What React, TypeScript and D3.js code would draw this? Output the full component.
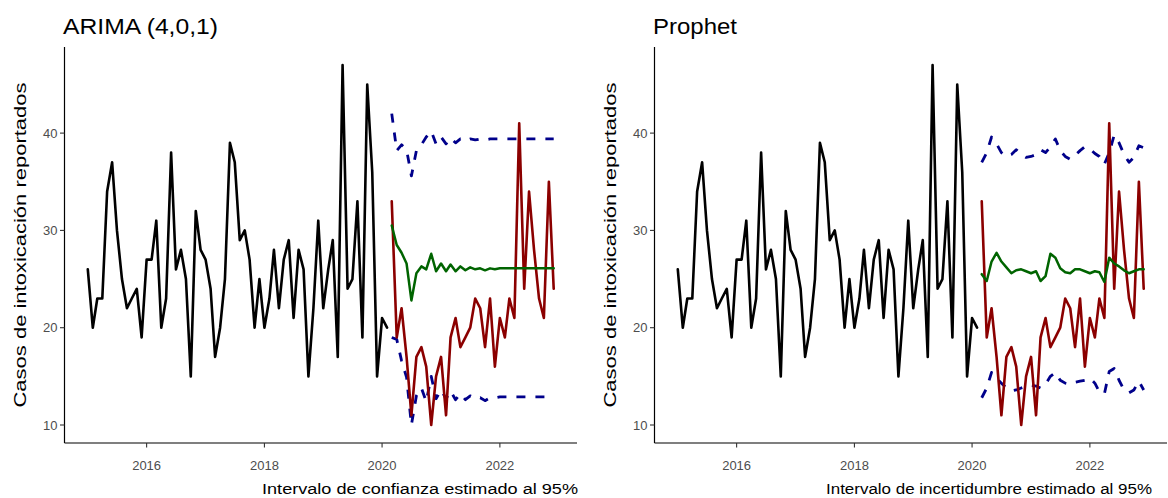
import React, { useEffect, useRef } from 'react';
import * as d3 from 'd3';

// Observed monthly cases used to fit the models (Jan 2015 - Feb 2020)
const trainStart = new Date(2015, 0, 1);
const trainValues = [
  26, 20, 23, 23, 34, 37, 30, 25, 22, 23, 24, 19,
  27, 27, 31, 20, 23, 38, 26, 28, 25, 15, 32, 28,
  27, 24, 17, 20, 25, 39, 37, 29, 30, 27, 20, 25,
  20, 23, 28, 22, 27, 29, 21, 28, 26, 15, 22, 31,
  22, 26, 29, 17, 47, 24, 25, 33, 19, 45, 36, 15,
  21, 20,
];

// Observed cases in the test window (Mar 2020 - Dec 2022)
const testStart = new Date(2020, 2, 1);
const testValues = [
  33, 19, 22, 17, 11, 17, 18, 16, 10, 15,
  17, 11, 19, 21, 18, 19, 20, 23, 22, 18, 23, 16,
  21, 19, 23, 21, 41, 24, 34, 28, 23, 21, 35, 24,
];

// ARIMA (4,0,1) forecast + 95% confidence interval
const arimaMean = [
  30.5, 28.5, 27.7, 26.6, 22.8, 25.6, 26.3, 26.0, 27.6, 25.8,
  26.6, 25.8, 26.5, 25.8, 26.3, 25.9, 26.2, 26.0, 26.1, 25.9, 26.1, 26.0,
  26.1, 26.1, 26.1, 26.1, 26.1, 26.1, 26.1, 26.1, 26.1, 26.1, 26.1, 26.1,
];
const arimaUpper = [
  42.0, 38.2, 38.8, 38.3, 35.6, 38.2, 38.8, 39.6, 40.2, 38.9,
  39.6, 38.9, 39.5, 39.0, 39.4, 39.2, 39.4, 39.3, 39.4, 39.3, 39.4, 39.4,
  39.4, 39.4, 39.4, 39.4, 39.4, 39.4, 39.4, 39.4, 39.4, 39.4, 39.4, 39.4,
];
const arimaLower = [
  19.0, 18.8, 16.6, 14.9, 10.0, 13.0, 13.8, 12.4, 15.0, 12.7,
  13.6, 12.7, 13.5, 12.6, 13.2, 12.6, 13.0, 12.7, 12.8, 12.5, 12.8, 12.8,
  12.9, 12.9, 12.9, 12.9, 12.9, 12.9, 12.9, 12.9, 12.9, 12.9, 12.9, 12.9,
];

// Prophet forecast + 95% uncertainty interval
const prophetMean = [
  25.5, 24.8, 26.8, 27.7, 26.8, 26.2, 25.6, 25.9, 26.0, 25.8,
  25.6, 25.8, 24.8, 25.3, 27.6, 27.2, 26.1, 25.7, 25.6, 26.0, 26.0, 25.8,
  25.6, 25.8, 25.7, 24.7, 27.2, 26.6, 26.3, 25.9, 25.6, 25.8, 26.0, 26.0,
];
const prophetUpper = [
  37.0, 38.0, 39.6, 38.9, 38.0, 37.6, 37.8, 38.3, 37.8, 37.5,
  37.6, 37.8, 38.3, 38.0, 38.6, 39.4, 38.2, 37.6, 37.3, 37.7, 38.2, 38.6,
  38.4, 37.9, 37.6, 36.8, 38.0, 39.8, 39.0, 37.8, 37.0, 37.5, 38.7, 38.5,
];
const prophetLower = [
  12.8, 13.8, 15.4, 14.8, 14.3, 13.8, 13.5, 13.6, 13.8, 14.0,
  14.1, 14.0, 13.8, 14.2, 15.0, 15.4, 14.6, 14.3, 14.2, 14.4, 14.5, 14.6,
  14.8, 14.3, 13.4, 13.2, 15.5, 15.8, 14.6, 13.6, 13.3, 13.6, 14.5, 13.6,
];

const yTicks = [10, 20, 30, 40];
const xTickYears = [2016, 2018, 2020, 2022];

const FONT = "'Liberation Sans', Arial, sans-serif";

const toSeries = (start, values) =>
  values.map((v, i) => ({ date: d3.timeMonth.offset(start, i), value: v }));

function drawPanel(svg, cfg) {
  const { dx, left, right, top, bottom } = cfg;
  const g = svg.append('g').attr('transform', `translate(${dx},0)`);

  const train = toSeries(trainStart, trainValues);
  const test = toSeries(testStart, testValues);
  const mean = toSeries(testStart, cfg.mean);
  const upper = toSeries(testStart, cfg.upper);
  const lower = toSeries(testStart, cfg.lower);

  // ggplot-like 5% expansion on both scales
  const dates = [...train, ...test].map(d => +d.date);
  const [d0, d1] = d3.extent(dates);
  const dSpan = d1 - d0;
  const x = d3.scaleTime()
    .domain([new Date(d0 - dSpan * 0.05), new Date(d1 + dSpan * 0.05)])
    .range([left, right]);

  const vals = [...trainValues, ...testValues, ...cfg.upper, ...cfg.lower];
  const [v0, v1] = d3.extent(vals);
  const vSpan = v1 - v0;
  const y = d3.scaleLinear()
    .domain([v0 - vSpan * 0.05, v1 + vSpan * 0.05])
    .range([bottom, top]);

  const line = d3.line().x(d => x(d.date)).y(d => y(d.value));

  // lines
  const addLine = (data, color, w, dash) => {
    g.append('path')
      .datum(data)
      .attr('d', line)
      .attr('fill', 'none')
      .attr('stroke', color)
      .attr('stroke-width', w)
      .attr('stroke-linejoin', 'round')
      .attr('stroke-linecap', dash ? 'butt' : 'round')
      .attr('stroke-dasharray', dash || null);
  };
  addLine(train, '#000000', 2.6);
  addLine(upper, '#00008B', 2.8, '9,10');
  addLine(lower, '#00008B', 2.8, '9,10');
  addLine(test, '#8B0000', 2.6);
  addLine(mean, '#006400', 2.5);

  // axes
  const axisColor = '#000';
  g.append('line')
    .attr('x1', left).attr('x2', left).attr('y1', top).attr('y2', bottom)
    .attr('stroke', axisColor).attr('stroke-width', 1.2);
  g.append('line')
    .attr('x1', left).attr('x2', right).attr('y1', bottom).attr('y2', bottom)
    .attr('stroke', axisColor).attr('stroke-width', 1.2);

  yTicks.forEach(t => {
    g.append('line')
      .attr('x1', left - 4.5).attr('x2', left)
      .attr('y1', y(t)).attr('y2', y(t))
      .attr('stroke', '#333').attr('stroke-width', 1.1);
    g.append('text')
      .attr('x', left - 7).attr('y', y(t))
      .attr('dy', '0.35em')
      .attr('text-anchor', 'end')
      .style('font-family', FONT)
      .style('font-size', '13px')
      .style('fill', '#4D4D4D')
      .text(t);
  });

  xTickYears.forEach(yr => {
    const px = x(new Date(yr, 0, 1));
    g.append('line')
      .attr('x1', px).attr('x2', px)
      .attr('y1', bottom).attr('y2', bottom + 4.5)
      .attr('stroke', '#333').attr('stroke-width', 1.1);
    g.append('text')
      .attr('x', px).attr('y', bottom + 27)
      .attr('text-anchor', 'middle')
      .style('font-family', FONT)
      .style('font-size', '13px')
      .style('fill', '#4D4D4D')
      .text(yr);
  });

  // titles
  g.append('text')
    .attr('x', cfg.titleX).attr('y', 34)
    .attr('textLength', cfg.titleLen)
    .attr('lengthAdjust', 'spacingAndGlyphs')
    .style('font-family', FONT)
    .style('font-size', '22px')
    .style('fill', '#000')
    .text(cfg.title);

  g.append('text')
    .attr('transform', `translate(${cfg.ylabX},${(top + bottom) / 2}) rotate(-90)`)
    .attr('text-anchor', 'middle')
    .attr('textLength', 325)
    .attr('lengthAdjust', 'spacingAndGlyphs')
    .style('font-family', FONT)
    .style('font-size', '17px')
    .style('fill', '#000')
    .text('Casos de intoxicación reportados');

  g.append('text')
    .attr('x', cfg.capRight).attr('y', 494)
    .attr('text-anchor', 'end')
    .attr('textLength', cfg.capLen)
    .attr('lengthAdjust', 'spacingAndGlyphs')
    .style('font-family', FONT)
    .style('font-size', '14px')
    .style('fill', '#000')
    .text(cfg.caption);
}

const App = () => {
  const svgRef = useRef(null);

  useEffect(() => {
    const svg = d3.select(svgRef.current);
    svg.selectAll('*').remove();

    drawPanel(svg, {
      dx: 0, left: 64.5, right: 577, top: 47, bottom: 443,
      title: 'ARIMA (4,0,1)', titleX: 63, titleLen: 155,
      ylabX: 26,
      caption: 'Intervalo de confianza estimado al 95%', capRight: 578, capLen: 316,
      mean: arimaMean, upper: arimaUpper, lower: arimaLower,
    });
    drawPanel(svg, {
      dx: 590, left: 64.5, right: 577, top: 47, bottom: 443,
      title: 'Prophet', titleX: 63, titleLen: 84,
      ylabX: 26,
      caption: 'Intervalo de incertidumbre estimado al 95%', capRight: 562, capLen: 326,
      mean: prophetMean, upper: prophetUpper, lower: prophetLower,
    });
  }, []);

  return (
    <svg
      ref={svgRef}
      width={1168}
      height={498}
      style={{ position: 'absolute', left: 0, top: 0, background: '#fff', display: 'block' }}
    />
  );
};

export default App;
